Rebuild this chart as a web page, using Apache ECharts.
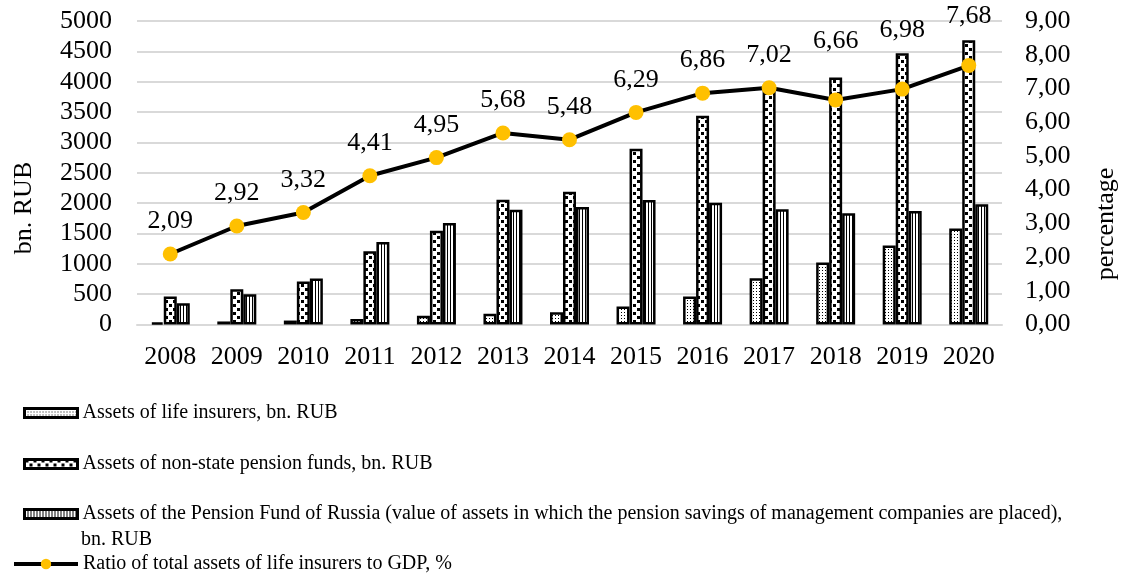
<!DOCTYPE html>
<html><head><meta charset="utf-8">
<script src="https://cdn.jsdelivr.net/npm/echarts@6/dist/echarts.min.js"></script>
<style>html,body{margin:0;padding:0;background:#fff}#c{width:1126px;height:575px}</style>
</head><body><div id="c"></div>
<script>
const years = ['2008','2009','2010','2011','2012','2013','2014','2015','2016','2017','2018','2019','2020'];
const lifeInsurers = [35, 50, 65, 90, 143, 176, 203, 296, 460, 762, 1020, 1300, 1580];
const npfAssets = [460, 580, 707, 1206, 1546, 2056, 2188, 2895, 3438, 3905, 4068, 4470, 4683];
const pfrAssets = [350, 500, 757, 1360, 1673, 1892, 1936, 2051, 2007, 1897, 1831, 1870, 1979];
const gdpRatio = [2.09, 2.92, 3.32, 4.41, 4.95, 5.68, 5.48, 6.29, 6.86, 7.02, 6.66, 6.98, 7.68];
const leftTicks = [0, 500, 1000, 1500, 2000, 2500, 3000, 3500, 4000, 4500, 5000];
const rightTicks = [0, 1, 2, 3, 4, 5, 6, 7, 8, 9];
const names = [
  'Assets of life insurers, bn. RUB',
  'Assets of non-state pension funds, bn. RUB',
  'Assets of the Pension Fund of Russia (value of assets in which the pension savings of management companies are placed), bn. RUB',
  'Ratio of total assets of life insurers to GDP, %'
];
// label distance above each marker (style, px)
const labelDistances = [12, 12, 12, 12, 12, 12, 12, 12, 12, 12, 38, 38, 29];

function pattern(w, h, draw) {
  const c = document.createElement('canvas');
  c.width = w; c.height = h;
  const g = c.getContext('2d');
  g.fillStyle = '#fff'; g.fillRect(0, 0, w, h);
  g.fillStyle = '#000';
  draw(g);
  return { image: c, repeat: 'repeat' };
}
const patLife = pattern(3, 3, g => { g.fillRect(0, 0, 1, 1); });
const patNpf = pattern(8, 8, g => { g.fillRect(1, 0, 3, 3); g.fillRect(5, 4, 3, 3); });
const patPfr = pattern(3, 1, g => { g.fillRect(0, 0, 1, 1); });

const FONT = '"Liberation Serif", "Times New Roman", serif';
const chart = echarts.init(document.getElementById('c'), null, { renderer: 'canvas' });

function barSeries(name, data, pat) {
  return {
    name, type: 'bar', data, yAxisIndex: 0,
    barWidth: 13, barGap: '0%',
    itemStyle: { color: pat, borderColor: '#000', borderWidth: 2.5 },
    emphasis: { disabled: true }
  };
}

const legendBase = {
  orient: 'vertical', left: 23, itemGap: 0, padding: 0,
  itemWidth: 53, itemHeight: 9, icon: 'rect',
  itemStyle: { borderColor: '#000', borderWidth: 3 },
  textStyle: { fontFamily: FONT, fontSize: 20, color: '#000' },
  selectedMode: false
};

chart.setOption({
  animation: false,
  backgroundColor: '#fff',
  grid: { left: 137, right: 124, top: 21, bottom: 250.5, containLabel: false },
  legend: [
    Object.assign({}, legendBase, { top: 403, data: [names[0]] }),
    Object.assign({}, legendBase, { top: 454, data: [names[1]] }),
    Object.assign({}, legendBase, { top: 504, data: [names[2]],
      formatter: () => 'Assets of the Pension Fund of Russia (value of assets in which the pension savings of management companies are placed),' }),
    {
      orient: 'vertical', left: 12, top: 554, padding: 0, itemGap: 0,
      itemWidth: 64, itemHeight: 13, data: [names[3]],
      lineStyle: { color: '#000', width: 4 },
      itemStyle: { color: '#FFC000' },
      textStyle: { fontFamily: FONT, fontSize: 20, color: '#000' },
      selectedMode: false
    }
  ],
  graphic: [
    { type: 'text', left: 81, top: 530, style: { text: 'bn. RUB', font: '20px ' + FONT, fill: '#000' } },
    { type: 'text', x: 24, y: 208, rotation: Math.PI / 2, style: { text: 'bn. RUB', font: '26px ' + FONT, fill: '#000', align: 'center', verticalAlign: 'middle' } },
    { type: 'text', x: 1106, y: 224, rotation: Math.PI / 2, style: { text: 'percentage', font: '26px ' + FONT, fill: '#000', align: 'center', verticalAlign: 'middle' } }
  ],
  xAxis: {
    type: 'category', data: years,
    axisLine: { show: true, lineStyle: { color: '#d9d9d9', width: 2 } },
    axisTick: { show: false },
    axisLabel: { fontFamily: FONT, fontSize: 26, color: '#000', margin: 20, interval: 0 }
  },
  yAxis: [
    {
      type: 'value', min: leftTicks[0], max: leftTicks[leftTicks.length - 1], interval: 500,
      axisLine: { show: false }, axisTick: { show: false },
      splitLine: { lineStyle: { color: '#d9d9d9', width: 2 } },
      axisLabel: { fontFamily: FONT, fontSize: 26, color: '#000', margin: 25, formatter: v => String(v) }
    },
    {
      type: 'value', min: rightTicks[0], max: rightTicks[rightTicks.length - 1], interval: 1,
      axisLine: { show: false }, axisTick: { show: false }, splitLine: { show: false },
      axisLabel: { fontFamily: FONT, fontSize: 26, color: '#000', margin: 23, align: 'left',
        formatter: v => v.toFixed(2).replace('.', ',') }
    }
  ],
  series: [
    barSeries(names[0], lifeInsurers, patLife),
    barSeries(names[1], npfAssets, patNpf),
    barSeries(names[2], pfrAssets, patPfr),
    {
      name: names[3], type: 'line', yAxisIndex: 1,
      data: gdpRatio.map((v, i) => ({ value: v, label: { distance: labelDistances[i] } })),
      symbol: 'circle', symbolSize: 15, z: 5,
      lineStyle: { color: '#000', width: 4 },
      itemStyle: { color: '#FFC000', borderWidth: 0 },
      label: { show: true, position: 'top', fontFamily: FONT, fontSize: 26, color: '#000',
        formatter: p => p.value.toFixed(2).replace('.', ',') },
      emphasis: { disabled: true }
    }
  ]
});
</script></body></html>
